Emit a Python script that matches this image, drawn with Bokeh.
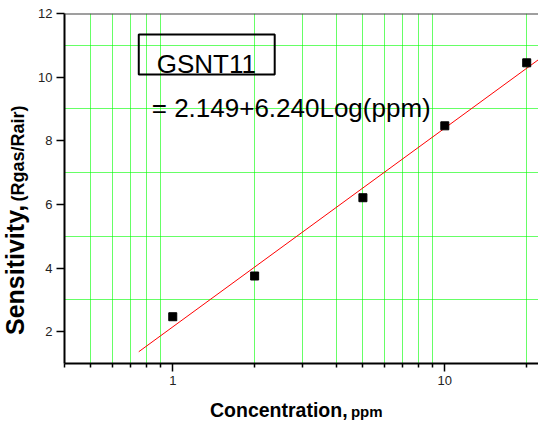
from bokeh.plotting import figure
from bokeh.models import FixedTicker, Label, BoxAnnotation, Span, ColumnDataSource, Div
from bokeh.layouts import row, column
from bokeh.embed import file_html
from bokeh.resources import INLINE

# data
conc_ppm = [1, 2, 5, 10, 20]
sensitivity = [2.47, 3.75, 6.21, 8.47, 10.45]
fit_x = [0.75, 22.1]
fit_y = [1.37, 10.55]
x_major = [1, 10]
x_major_labels = ["1", "10"]
x_minor = [0.4, 0.5, 0.6, 0.7, 0.8, 0.9, 2, 3, 4, 5, 6, 7, 8, 9, 20]
y_major = [2, 4, 6, 8, 10, 12]
y_minor = [3, 5, 7, 9, 11]
sample_name = "GSNT11"
equation = "= 2.149+6.240Log(ppm)"
x_title, x_unit = "Concentration,", "ppm"
y_title, y_unit = "Sensitivity,", "(Rgas/Rair)"

FONT = "Liberation Sans"
YLAB_W = 30
XLAB_H = 31
P_W = 538 - YLAB_W
P_H = 424 - XLAB_H

p = figure(width=P_W, height=P_H, x_axis_type="log", x_range=(0.4, 22.1), y_range=(1, 12),
           output_backend="svg", toolbar_location=None,
           min_border_left=64 - YLAB_W, min_border_right=0, min_border_top=13,
           min_border_bottom=P_H - 363)
p.outline_line_color = None

p.xaxis.ticker = FixedTicker(ticks=x_major, minor_ticks=x_minor)
p.xaxis.major_label_overrides = dict(zip(x_major, x_major_labels))
p.yaxis.ticker = FixedTicker(ticks=y_major, minor_ticks=y_minor)

# grids: only minor lines, green
for g in (p.xgrid, p.ygrid):
    g.grid_line_color = None
    g.minor_grid_line_color = "#00ff00"
    g.minor_grid_line_width = 1
    g.minor_grid_line_alpha = 0.6

# axes
for ax in (p.xaxis, p.yaxis):
    ax.axis_line_color = "black"
    ax.axis_line_width = 2
    ax.major_tick_line_color = "black"
    ax.major_tick_line_width = 1.5
    ax.major_tick_in = 0
    ax.minor_tick_in = 0
    ax.major_label_text_font = FONT
    ax.major_label_text_font_size = "13px"
    ax.major_label_text_color = "#222222"

p.xaxis.major_tick_out = 8
p.xaxis.minor_tick_out = 4
p.xaxis.minor_tick_line_color = "black"
p.xaxis.minor_tick_line_width = 1.5
p.xaxis.major_label_standoff = 4
p.yaxis.major_tick_out = 8
p.yaxis.minor_tick_line_color = None
p.yaxis.major_label_standoff = 4

# top frame line
p.add_layout(Span(location=12, dimension="width", line_color="#404040", line_width=2))

# fit line and points
p.line(fit_x, fit_y, line_color="red", line_width=1)
src = ColumnDataSource(dict(x=conc_ppm, y=sensitivity))
p.scatter("x", "y", source=src, marker="square", size=8, fill_color="black", line_color="black")

# annotation box and texts
p.add_layout(BoxAnnotation(left=0.75, right=2.37, top=11.34, bottom=10.08,
                           fill_color=None, fill_alpha=0, line_color="black", line_alpha=1,
                           line_width=2, level="overlay"))
p.add_layout(Label(x=0.873, y=10.40, text=sample_name, text_font=FONT, text_font_size="26px",
                   text_color="black", text_baseline="alphabetic"))
p.add_layout(Label(x=0.837, y=9.04, text=equation, text_font=FONT, text_font_size="26px",
                   text_color="black", text_baseline="alphabetic"))

# axis titles with mixed font sizes (HTML)
ydiv = Div(width=YLAB_W, height=P_H, margin=0,
           text=(f'<div style="position:relative; left:1px; top:335px; transform:rotate(-90deg); '
                 f'transform-origin:left top; white-space:nowrap; font-family:\'{FONT}\'; '
                 f'font-weight:bold; color:black; line-height:normal; width:300px;">'
                 f'<span style="font-size:25px">{y_title}</span> '
                 f'<span style="font-size:18px">{y_unit}</span></div>'))
xdiv = Div(width=538, height=XLAB_H, margin=0,
           text=(f'<div style="padding-left:210px; padding-top:6px; white-space:nowrap; '
                 f'font-family:\'{FONT}\'; font-weight:bold; color:black; line-height:normal;">'
                 f'<span style="font-size:19.5px">{x_title}</span> '
                 f'<span style="font-size:15px">{x_unit}</span></div>'))

layout = column(row(ydiv, p, spacing=0), xdiv, spacing=0)

open("out.html", "w").write(file_html(layout, INLINE))
